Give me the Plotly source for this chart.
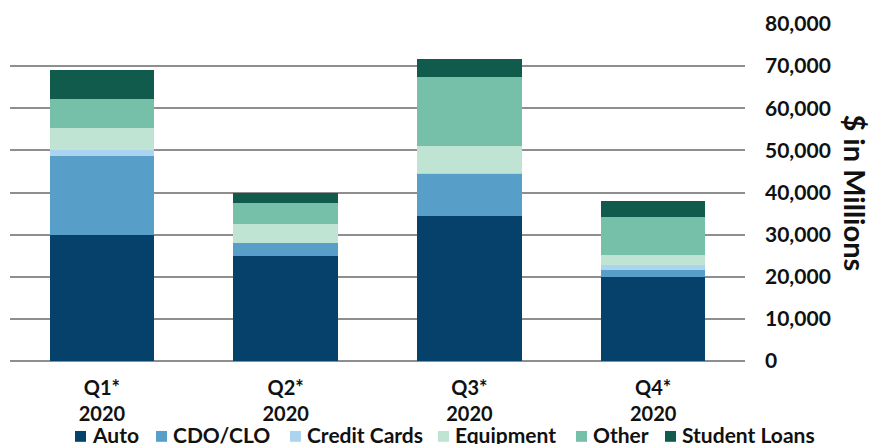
import plotly.graph_objects as go

quarters = ["Q1*<br>2020", "Q2*<br>2020", "Q3*<br>2020", "Q4*<br>2020"]
auto = [30000, 24900, 34500, 20000]
cdo_clo = [18700, 3000, 10000, 1600]
credit_cards = [1400, 0, 200, 1200]
equipment = [5300, 4700, 6300, 2300]
other = [6800, 4800, 16400, 9200]
student_loans = [7000, 2400, 4300, 3700]

series_names = ["Auto", "CDO/CLO", "Credit Cards", "Equipment", "Other", "Student Loans"]
series_values = [auto, cdo_clo, credit_cards, equipment, other, student_loans]
series_colors = ["#05416b", "#579fc9", "#acd4f0", "#bfe4d4", "#76bfa8", "#115b4c"]

# legend layout (pixel positions of the custom legend squares)
legend_square_left = [75, 156, 290, 438, 576, 665]
legend_gap = 5
legend_square = 11

FONT = "Lato"
W, H = 872, 444
ML, MR, MT, MB = 10, 127, 19, 83
PW, PH = W - ML - MR, H - MT - MB


def px_to_paper_x(px):
    return (px - ML) / PW


def py_to_paper_y(py):
    return (H - MB - py) / PH


fig = go.Figure()
for name, vals, color in zip(series_names, series_values, series_colors):
    fig.add_trace(go.Bar(x=quarters, y=vals, name=name, marker_color=color,
                         marker_line_width=0))

annotations = [dict(text="$ in Millions", textangle=90, showarrow=False,
                    xref="paper", yref="paper", x=1.0, xshift=110, y=0.5,
                    xanchor="center", yanchor="middle",
                    font=dict(size=29, family=FONT, weight="bold", color="#111111"))]
shapes = []
sq_top, sq_bot = 432, 443
for name, color, left in zip(series_names, series_colors, legend_square_left):
    shapes.append(dict(type="rect", xref="paper", yref="paper",
                       x0=px_to_paper_x(left), x1=px_to_paper_x(left + legend_square),
                       y0=py_to_paper_y(sq_bot), y1=py_to_paper_y(sq_top),
                       fillcolor=color, line=dict(width=0), layer="above"))
    annotations.append(dict(text=name, showarrow=False, xref="paper", yref="paper",
                            x=px_to_paper_x(left + legend_square + legend_gap - 1),
                            y=py_to_paper_y(436), xanchor="left", yanchor="middle",
                            font=dict(size=21, family=FONT, weight="bold", color="#111111")))

fig.update_layout(
    width=W, height=H,
    barmode="stack", bargap=0.43,
    margin=dict(l=ML, r=MR, t=MT, b=MB),
    plot_bgcolor="white", paper_bgcolor="white",
    font=dict(family=FONT, size=21, color="#111111", weight="bold"),
    showlegend=False,
    xaxis=dict(showline=False, ticks="", tickfont=dict(size=20, weight="bold"),
               ticklabelstandoff=13),
    yaxis=dict(side="right", range=[0, 80000], dtick=10000, tickformat=",d",
               showgrid=True, gridcolor="#8e8e8e", gridwidth=2,
               zeroline=True, zerolinecolor="#8e8e8e", zerolinewidth=2,
               showline=False, ticks="", ticklabelstandoff=19,
               tickfont=dict(size=21, weight="bold")),
    annotations=annotations,
    shapes=shapes,
)

fig.write_html("out.html")
